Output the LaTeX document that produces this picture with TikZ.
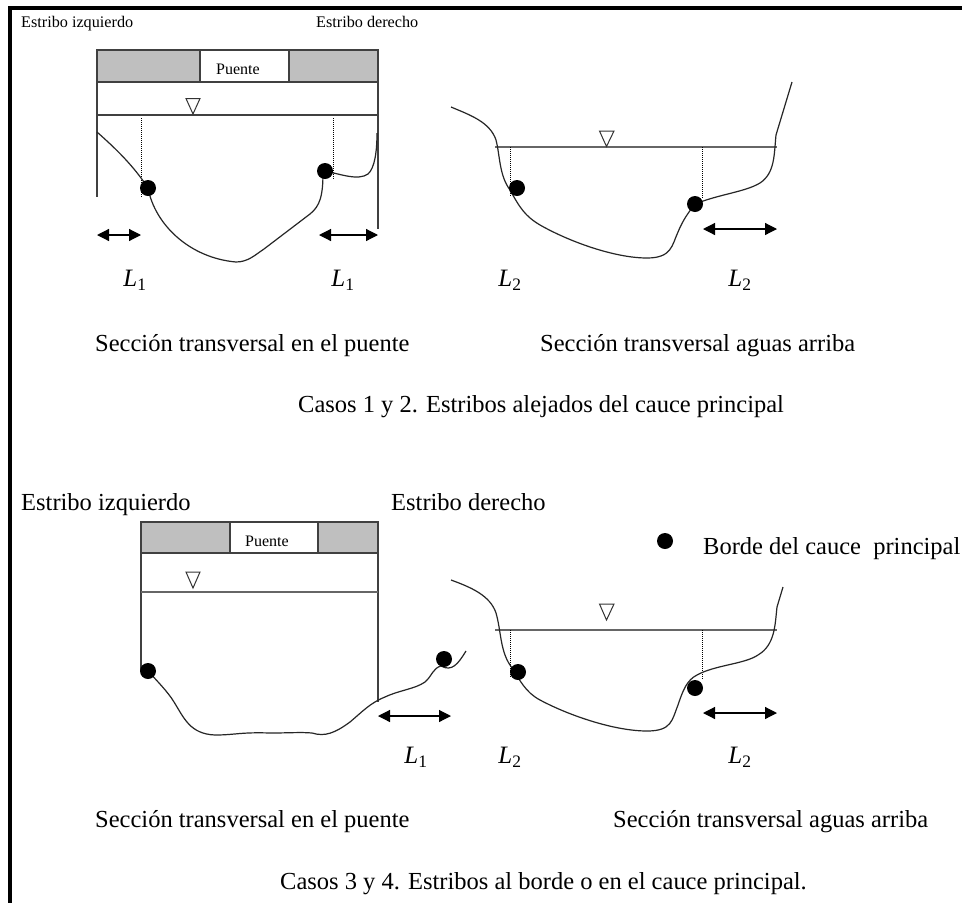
\documentclass[tikz,border=0pt]{standalone}
\usepackage{fontspec}
\setmainfont{Liberation Serif}
\usetikzlibrary{arrows.meta}
\tikzset{
 x=1pt,y=-1pt,
 bank/.style={draw=black!85,line width=1.2pt,line join=round},
 frameline/.style={draw=black!75,line width=1.1pt},
 waterline/.style={draw=black!60,line width=1.4pt},
 gage/.style={draw=black,line width=.8pt,dash pattern=on 1pt off 1pt},
 deck/.style={fill=black!25,draw=black!75,line width=1.1pt},
 tri/.style={draw=black!80,line width=1pt,fill=white},
 span/.style={draw=black,line width=1.2pt,{Triangle[length=12pt,width=12pt]}-{Triangle[length=12pt,width=12pt]}},
 edgedot/.style={circle,fill=black,inner sep=0pt,minimum size=16pt},
 txt/.style={anchor=base west,inner sep=0pt,font=\fontsize{24.5}{27}\selectfont},
 small/.style={anchor=base west,inner sep=0pt,font=\fontsize{16.2}{18}\selectfont},
 puente/.style={anchor=base,inner sep=0pt,font=\fontsize{16}{18}\selectfont},
 lab/.style={anchor=center,inner sep=0pt,font=\fontsize{25}{27}\selectfont},
}
\newcommand{\Lone}{$\mathit{L}_{\mathrm{1}}$}
\newcommand{\Ltwo}{$\mathit{L}_{\mathrm{2}}$}
\begin{document}
\begin{tikzpicture}
\useasboundingbox (0,0) rectangle (962,903);
\fill[white] (0,0) rectangle (962,903);
% page frame
\fill[black] (8,6) rectangle (962,10);
\fill[black] (8,6) rectangle (12,903);
% ---- panel 1
\path[deck] (97,50) rectangle (378,82);
\path[draw=black!75,fill=white,line width=1.1pt] (200,50) rectangle (289,82);
\begin{scope}
\clip (200,50) rectangle (289,73.5);
\node[puente] (p1) at (238,74.5) {Puente};
\end{scope}
\draw[frameline] (97,82) -- (97,197);
\draw[frameline] (378,82) -- (378,229);
\draw[frameline] (97,115) -- (378,115);
\draw[tri] (186,98.5) -- (200,98.5) -- (193,114) -- cycle;
\draw[gage] (141,118) -- (141,197);
\draw[gage] (333,118) -- (333,180);
\draw[bank] (97,132) .. controls (115,148) and (133,165) .. (148,188)
  .. controls (155,225) and (190,258) .. (236,262)
  .. controls (248,262) and (255,255) .. (264,249)
  -- (310,214) .. controls (320,206) and (323,196) .. (323,172);
\draw[bank] (325,171) .. controls (340,174) and (358,181) .. (368,174)
  .. controls (375,168) and (377,150) .. (377,133);
\node[edgedot] (d1) at (148,188) {};
\node[edgedot] (d2) at (325,171) {};
\draw[span] (97,235) -- (141,235);
\draw[span] (319,235) -- (378,235);
\node[lab] (l1) at (135,280) {\Lone};
\node[lab] (l2) at (343,280) {\Lone};
% ---- panel 2
\draw[waterline] (495,147) -- (777,147);
\draw[tri] (599.5,131) -- (614,131) -- (606.5,146.5) -- cycle;
\draw[gage] (510,147) -- (510,196);
\draw[gage] (702,147) -- (702,198);
\draw[bank] (451,107) .. controls (470,115) and (490,122) .. (496,140)
  .. controls (500,155) and (499,175) .. (510,190)
  .. controls (520,208) and (525,216) .. (540,225)
  .. controls (570,242) and (615,258) .. (647,258)
  .. controls (672,258) and (672,245) .. (678,232)
  .. controls (683,220) and (688,213) .. (695,204);
\draw[bank] (695,204) .. controls (720,194) and (745,192) .. (760,183)
  .. controls (775,173) and (774,155) .. (776,135)
  -- (792,82);
\node[edgedot] (d3) at (517,188) {};
\node[edgedot] (d4) at (695,204) {};
\draw[span] (703,229) -- (777,229);
\node[lab] (l3) at (510,280) {\Ltwo};
\node[lab] (l4) at (740,280) {\Ltwo};
% ---- top texts
\node[small] (t1) at (21,27) {Estribo izquierdo};
\node[small] (t2) at (316,27) {Estribo derecho};
\node[txt] (t3) at (95,351) {Sección transversal en el puente};
\node[txt] (t4) at (540,351) {Sección transversal aguas arriba};
\node[txt] (t5) at (298,412) {Casos 1 y 2. Estribos alejados del cauce principal};
% ---- panel 3
\path[deck] (141,522) rectangle (378,553);
\path[draw=black!75,fill=white,line width=1.1pt] (230,522) rectangle (318,553);
\begin{scope}
\clip (230,522) rectangle (318,546);
\node[puente] (p2) at (267,546) {Puente};
\end{scope}
\draw[frameline] (141,553) -- (141,672);
\draw[frameline] (378,553) -- (378,702);
\draw[waterline] (141,592) -- (378,592);
\draw[tri] (186,572) -- (200,572) -- (193,588) -- cycle;
\draw[bank] (148,671) .. controls (158,682) and (168,692) .. (174,702)
  .. controls (184,718) and (190,734) .. (215,735)
  .. controls (235,735) and (240,732) .. (270,733)
  .. controls (290,733) and (300,732) .. (312,733)
  .. controls (325,737) and (335,733) .. (350,722)
  .. controls (362,712) and (370,703) .. (385,697)
  .. controls (400,690) and (415,689) .. (425,682)
  .. controls (432,676) and (433,668) .. (441,666)
  .. controls (452,672) and (458,664) .. (466,651);
\node[edgedot] (d5) at (148,671) {};
\node[edgedot] (d6) at (444,659) {};
\draw[span] (378,716) -- (451,716);
\node[lab] (l5) at (416,757) {\Lone};
% ---- panel 4
\draw[waterline] (495,630) -- (777,630);
\draw[tri] (599.5,604) -- (614,604) -- (606.5,620) -- cycle;
\draw[gage] (510,630) -- (510,678);
\draw[gage] (702,630) -- (702,680);
\draw[bank] (451,580) .. controls (470,587) and (490,595) .. (496,613)
  .. controls (501,630) and (500,650) .. (510,665)
  .. controls (520,680) and (525,692) .. (540,700)
  .. controls (570,716) and (615,731) .. (647,731)
  .. controls (672,731) and (672,720) .. (678,705)
  .. controls (683,690) and (687,680) .. (697,675)
  .. controls (715,665) and (745,664) .. (758,655)
  .. controls (775,645) and (775,625) .. (777,607)
  -- (783,587);
\node[edgedot] (d7) at (518,672) {};
\node[edgedot] (d8) at (695,688) {};
\draw[span] (703,713) -- (777,713);
\node[lab] (l6) at (510,757) {\Ltwo};
\node[lab] (l7) at (740,757) {\Ltwo};
% ---- bottom texts
\node[edgedot] (d9) at (665,541) {};
\node[txt] (t6) at (703,554) {Borde del cauce\ \ principal};
\node[txt] (t7) at (21,510) {Estribo izquierdo};
\node[txt] (t8) at (391,510) {Estribo derecho};
\node[txt] (t9) at (95,827) {Sección transversal en el puente};
\node[txt] (t10) at (613,827) {Sección transversal aguas arriba};
\node[txt] (t11) at (280,889) {Casos 3 y 4. Estribos al borde o en el cauce principal.};
\end{tikzpicture}
\end{document}
